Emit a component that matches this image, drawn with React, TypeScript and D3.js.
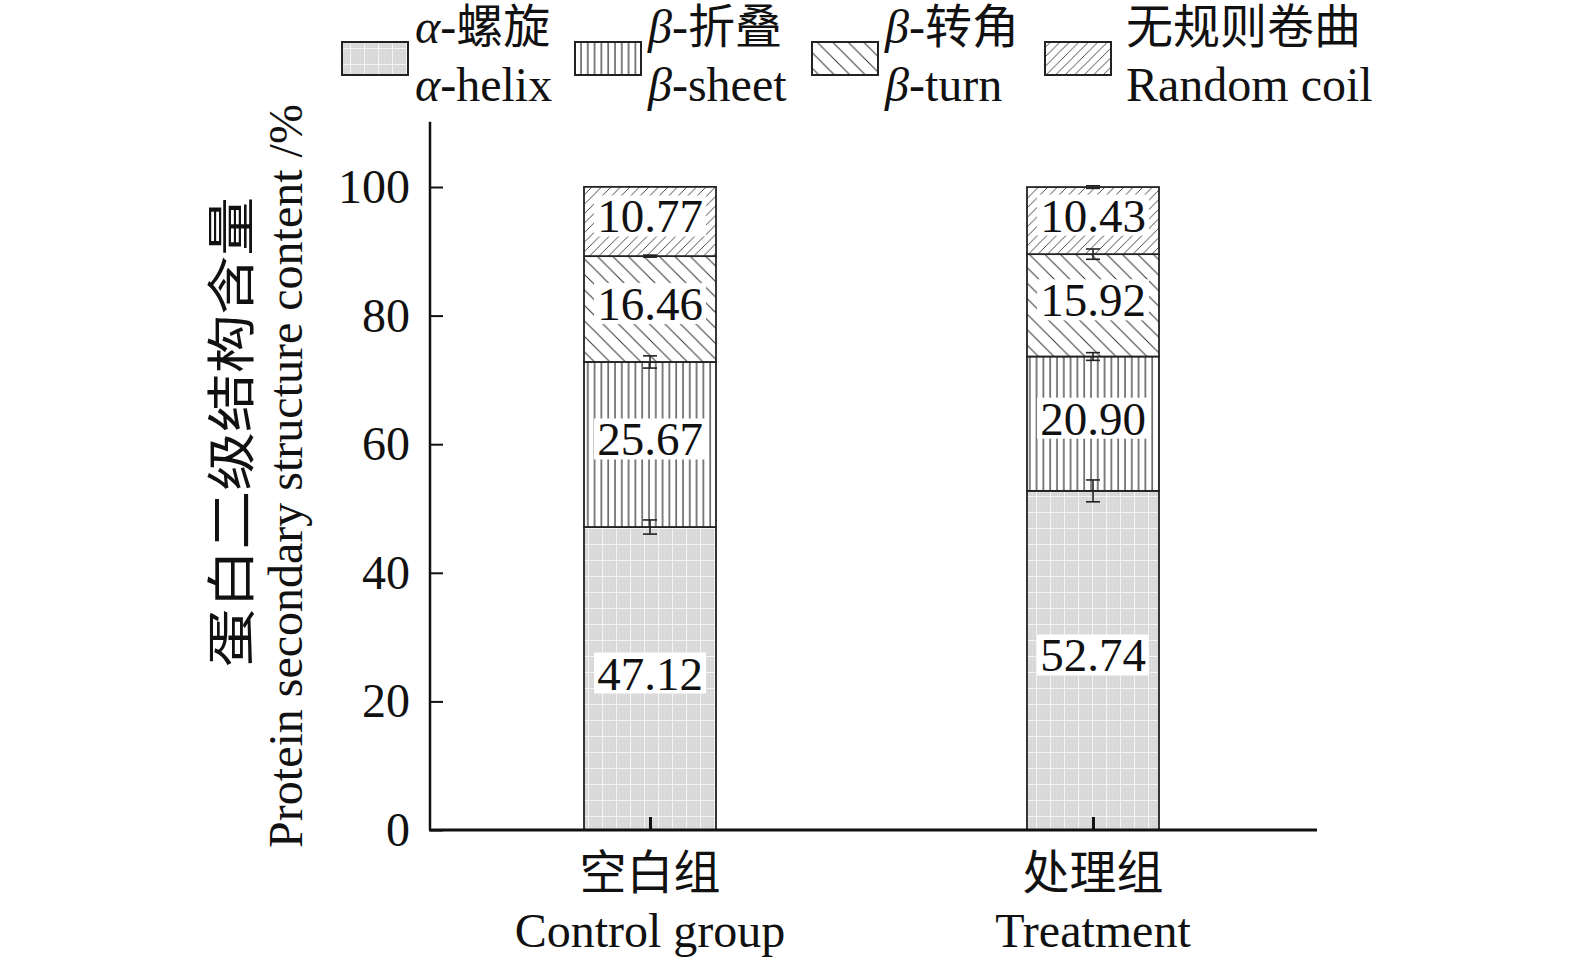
import { useEffect, useRef } from 'react';
import * as d3 from 'd3';

const WIDTH = 1575;
const HEIGHT = 964;

const groupsZh = ['空白组', '处理组'];
const groupsEn = ['Control group', 'Treatment'];
const seriesZh = ['螺旋', '折叠', '转角', '无规则卷曲'];
const seriesEn = ['helix', 'sheet', 'turn', 'Random coil'];
const seriesGreek = ['α', 'β', 'β', ''];

// one array per structure, [control, treatment]
const helix = [47.12, 52.74];
const sheet = [25.67, 20.9];
const turn = [16.46, 15.92];
const coil = [10.77, 10.43];
const helixErr = [1.1, 1.7];
const sheetErr = [0.95, 0.6];
const turnErr = [0.05, 0.8];
const coilErr = [0, 0.2];

const yTicks = [0, 20, 40, 60, 80, 100];

const FONT = "'Liberation Serif', 'Times New Roman', 'Noto Sans CJK SC', serif";
const patternIds = ['p-helix', 'p-sheet', 'p-turn', 'p-coil'];

const AXIS_X = 430;
const AXIS_Y = 830;
const y = d3.scaleLinear().domain([0, 100]).range([AXIS_Y, 187]);
const x = d3.scaleLinear().domain([1, 2]).range([650, 1093]);
const BAR_W = 132;

const Patterns = () => (
  <defs>
    <pattern id="p-helix" patternUnits="userSpaceOnUse" width={14} height={16}>
      <rect width={14} height={16} fill="#d7d7d7" />
      <path d="M3.5,0V16M7,0V16M10.5,0V16M0,4H14M0,8H14M0,12H14" stroke="#dedede" strokeWidth={0.8} />
      <path d="M0.5,0V16M0,0.5H14" stroke="#f4f4f4" strokeWidth={1.2} />
    </pattern>
    <pattern id="p-sheet" patternUnits="userSpaceOnUse" width={6.8} height={10}>
      <rect width={6.8} height={10} fill="#fff" />
      <line x1={3} y1={0} x2={3} y2={10} stroke="#4a4a4a" strokeWidth={1.4} />
    </pattern>
    <pattern id="p-turn" patternUnits="userSpaceOnUse" width={15.5} height={15.5}>
      <rect width={15.5} height={15.5} fill="#fff" />
      <path d="M-1,-1L16.5,16.5M-1,14.5L1,16.5M14.5,-1L16.5,1" stroke="#333" strokeWidth={1} />
    </pattern>
    <pattern id="p-coil" patternUnits="userSpaceOnUse" width={9.5} height={9.5}>
      <rect width={9.5} height={9.5} fill="#fff" />
      <path d="M-1,10.5L10.5,-1M-1,1L1,-1M8.5,10.5L10.5,8.5" stroke="#333" strokeWidth={0.9} />
    </pattern>
  </defs>
);

const ValueLabel = ({ cx, cy, text }: { cx: number; cy: number; text: string }) => {
  const w = text.replace('.', '').length * 23.5 + 12 + 6;
  return (
    <g>
      <rect x={cx - w / 2} y={cy - 21} width={w} height={41} fill="#fff" />
      <text x={cx} y={cy + 16} textAnchor="middle" fontSize={47} fontFamily={FONT} fill="#111">
        {text}
      </text>
    </g>
  );
};

export default function App() {
  const yAxisRef = useRef<SVGGElement>(null);
  const xAxisRef = useRef<SVGGElement>(null);

  const stack = [helix, sheet, turn, coil];
  const errs = [helixErr, sheetErr, turnErr, coilErr];

  useEffect(() => {
    const gy = d3.select(yAxisRef.current);
    gy.selectAll('*').remove();
    gy.call(
      d3
        .axisRight(y)
        .tickValues(d3.range(10, 111, 20))
        .tickSize(7)
        .tickFormat(() => '')
    );
    gy.call(
      d3
        .axisRight(y)
        .tickValues(yTicks)
        .tickSize(13)
        .tickFormat(() => '')
    );
    gy.selectAll('.domain').remove();
    gy.selectAll('line').attr('stroke', '#111').attr('stroke-width', 2);

    const gx = d3.select(xAxisRef.current);
    gx.selectAll('*').remove();
    gx.call(
      d3
        .axisTop(x)
        .tickValues([1, 2])
        .tickSize(13)
        .tickFormat(() => '')
    );
    gx.selectAll('.domain').remove();
    gx.selectAll('line').attr('stroke', '#111').attr('stroke-width', 3);
  }, []);

  const legendX = [342, 575, 812, 1045];
  const legendTextDx = [73, 73, 73, 81];

  return (
    <svg
      width={WIDTH}
      height={HEIGHT}
      style={{ position: 'absolute', left: 0, top: 0, background: '#fff' }}
    >
      <Patterns />

      {/* bars */}
      {groupsZh.map((_, gi) => {
        let base = 0;
        return (
          <g key={gi}>
            {stack.map((s, si) => {
              const y0 = base;
              const y1 = base + s[gi];
              base = y1;
              return (
                <rect
                  key={si}
                  x={x(gi + 1) - BAR_W / 2}
                  y={y(y1)}
                  width={BAR_W}
                  height={y(y0) - y(y1)}
                  fill={`url(#${patternIds[si]})`}
                  stroke="#222"
                  strokeWidth={1.8}
                />
              );
            })}
          </g>
        );
      })}

      {/* value labels */}
      {groupsZh.map((_, gi) => {
        let base = 0;
        return (
          <g key={gi}>
            {stack.map((s, si) => {
              const mid = base + s[gi] / 2;
              base += s[gi];
              return <ValueLabel key={si} cx={x(gi + 1)} cy={y(mid) - 5} text={s[gi].toFixed(2)} />;
            })}
          </g>
        );
      })}

      {/* error bars */}
      {groupsZh.map((_, gi) => {
        let base = 0;
        return (
          <g key={gi} stroke="#222" strokeWidth={1.6}>
            {stack.map((s, si) => {
              base += s[gi];
              const e = errs[si][gi];
              if (e <= 0) return null;
              const cx = x(gi + 1);
              const hi = y(base + e);
              const lo = y(base - e);
              return (
                <g key={si}>
                  <line x1={cx} x2={cx} y1={hi} y2={lo} />
                  <line x1={cx - 7} x2={cx + 7} y1={hi} y2={hi} strokeWidth={e < 0.1 ? 3 : 1.6} />
                  <line x1={cx - 7} x2={cx + 7} y1={lo} y2={lo} strokeWidth={e < 0.1 ? 3 : 1.6} />
                </g>
              );
            })}
          </g>
        );
      })}

      {/* axes */}
      <g ref={yAxisRef} transform={`translate(${AXIS_X},0)`} />
      <g ref={xAxisRef} transform={`translate(0,${AXIS_Y})`} />
      <line x1={AXIS_X} x2={AXIS_X} y1={y(110) - 1} y2={AXIS_Y} stroke="#111" strokeWidth={2.5} />
      <line x1={AXIS_X - 1} x2={1317} y1={AXIS_Y} y2={AXIS_Y} stroke="#111" strokeWidth={3} />

      {/* y tick labels */}
      {yTicks.map((t) => (
        <text key={t} x={410} y={y(t) + 16} textAnchor="end" fontSize={48} fontFamily={FONT} fill="#111">
          {t}
        </text>
      ))}

      {/* x labels */}
      {groupsZh.map((g, gi) => (
        <g key={g} fontFamily={FONT} fill="#111" textAnchor="middle">
          <text x={x(gi + 1)} y={889} fontSize={47}>{g}</text>
          <text x={x(gi + 1)} y={947} fontSize={48}>{groupsEn[gi]}</text>
        </g>
      ))}

      {/* y title */}
      <g fontFamily={FONT} fill="#111" textAnchor="middle">
        <text transform="translate(249,432) rotate(-90) scale(1.2,1)" fontSize={49}>
          蛋白二级结构含量
        </text>
        <text transform="translate(302,476) rotate(-90)" fontSize={48}>
          Protein secondary structure content /%
        </text>
      </g>

      {/* legend */}
      {seriesZh.map((s, i) => (
        <g key={s} fontFamily={FONT} fontSize={48} fill="#111">
          <rect
            x={legendX[i]}
            y={42}
            width={66}
            height={33}
            fill={`url(#${patternIds[i]})`}
            stroke="#222"
            strokeWidth={2}
          />
          <text x={legendX[i] + legendTextDx[i]} y={43}>
            {seriesGreek[i] && <tspan fontStyle="italic">{seriesGreek[i]}</tspan>}
            {seriesGreek[i] ? '-' : ''}
            <tspan fontSize={47}>{s}</tspan>
          </text>
          <text x={legendX[i] + legendTextDx[i]} y={101}>
            {seriesGreek[i] && <tspan fontStyle="italic">{seriesGreek[i]}</tspan>}
            {seriesGreek[i] ? '-' : ''}
            {seriesEn[i]}
          </text>
        </g>
      ))}
    </svg>
  );
}
